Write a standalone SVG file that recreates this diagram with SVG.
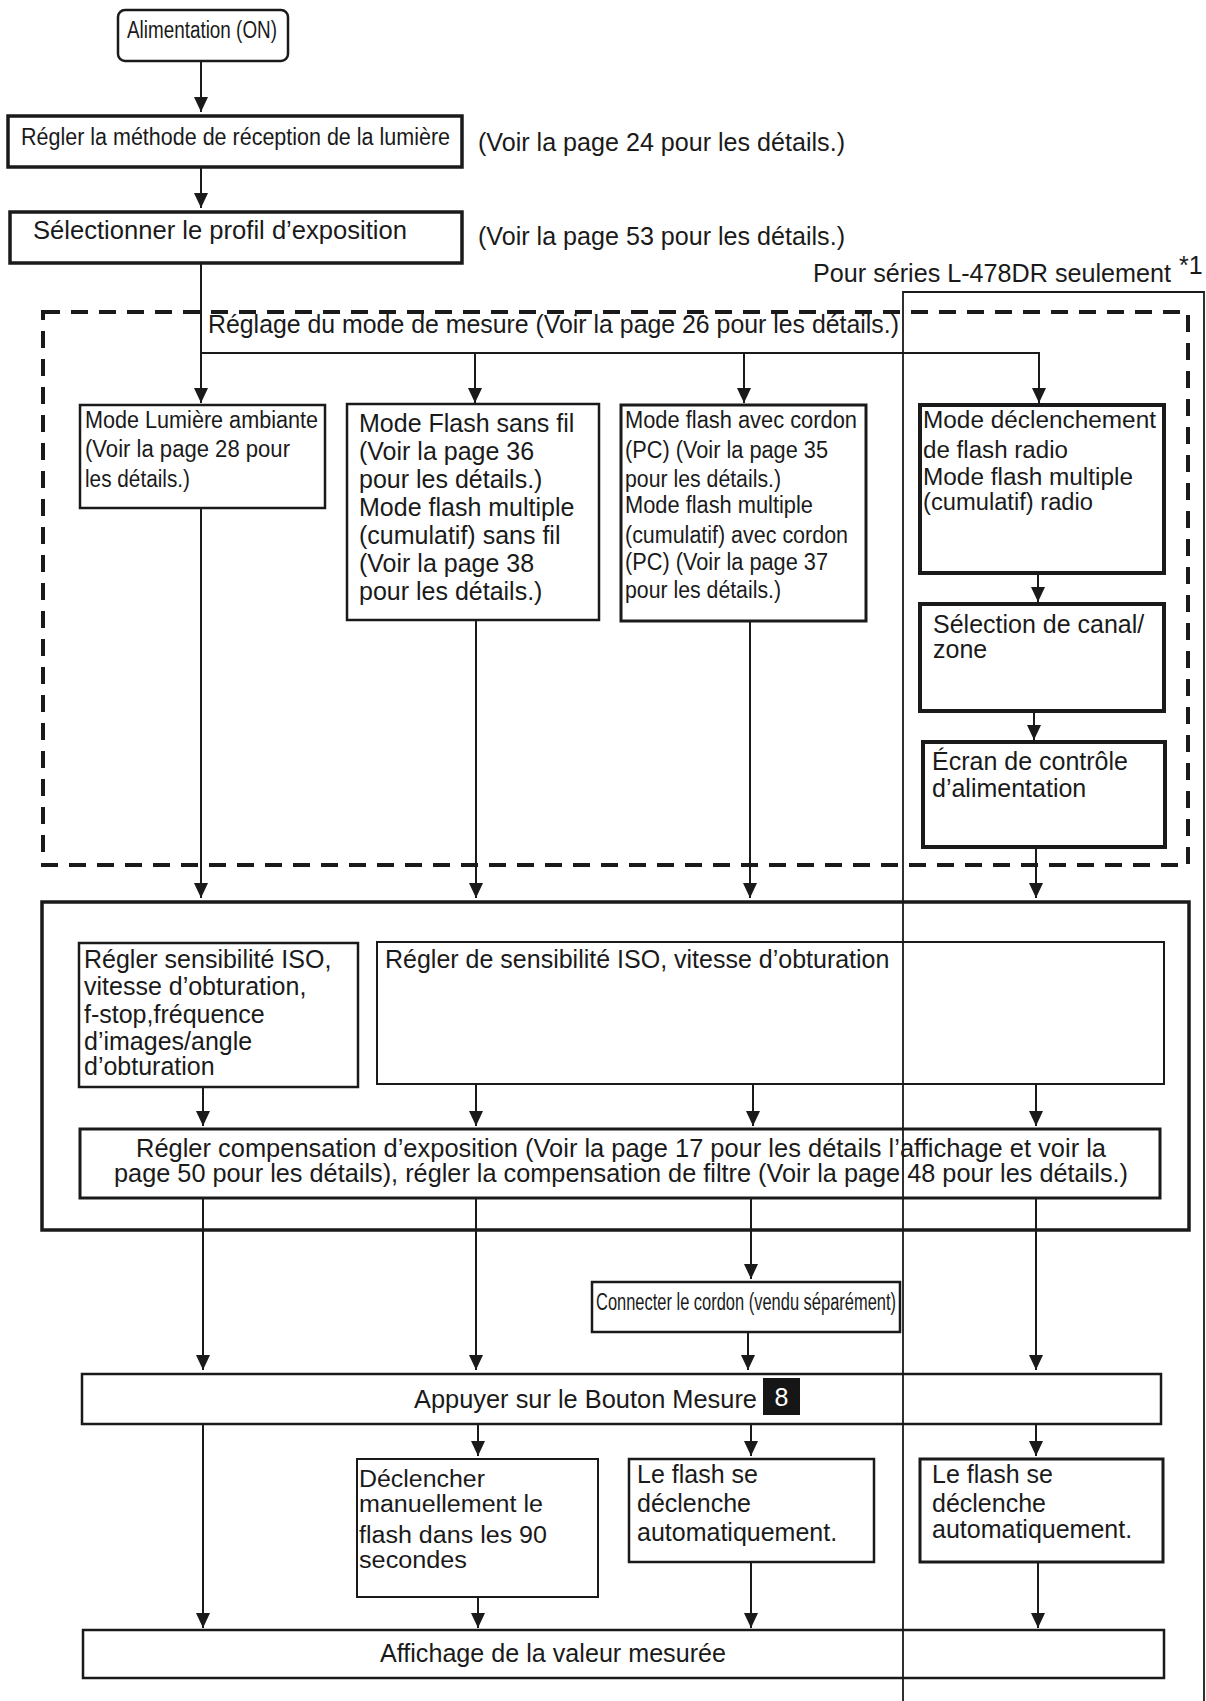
<svg xmlns="http://www.w3.org/2000/svg" width="1206" height="1701" viewBox="0 0 1206 1701">
<defs>
<marker id="ah" viewBox="0 0 15 16" refX="15" refY="8" markerWidth="15" markerHeight="16" markerUnits="userSpaceOnUse" orient="auto">
<path d="M0,1 L15,8 L0,15 z" fill="#1a1a1a"/>
</marker>
<style>
text{font-family:"Liberation Sans",Arial,sans-serif;font-size:25px;fill:#1a1a1a}
.nr{font-family:"Liberation Sans Narrow","Liberation Sans",Arial,sans-serif;font-size:23px}
rect{fill:none;stroke:#1a1a1a}
.t2{stroke-width:2}
.t25{stroke-width:2.5}
.t3{stroke-width:3}
.t35{stroke-width:3.5}
.t4{stroke-width:4}
.c path{fill:none;stroke:#1a1a1a;stroke-width:2;marker-end:url(#ah)}
</style>
</defs>
<rect x="0" y="0" width="1206" height="1701" fill="#fff" stroke="none" style="fill:#fff;stroke:none"/>

<g id="n-alim"><rect x="118" y="10" width="170" height="51" rx="7" class="t25"/><text class="nr" x="127" y="38" font-size="24" textLength="150" lengthAdjust="spacingAndGlyphs">Alimentation (ON)</text></g>

<g id="n-methode"><rect x="8" y="116" width="454" height="51" class="t35"/><text class="nr" x="21" y="145" font-size="24" textLength="429" lengthAdjust="spacingAndGlyphs">Régler la méthode de réception de la lumière</text></g>
<g id="note-24"><text x="478" y="151" textLength="367" lengthAdjust="spacingAndGlyphs">(Voir la page 24 pour les détails.)</text></g>

<g id="n-profil"><rect x="10" y="212" width="452" height="51" class="t35"/><text x="33" y="239" font-size="25.5" textLength="374" lengthAdjust="spacingAndGlyphs">Sélectionner le profil d’exposition</text></g>
<g id="note-53"><text x="478" y="245" textLength="367" lengthAdjust="spacingAndGlyphs">(Voir la page 53 pour les détails.)</text></g>

<g id="note-l478"><text x="813" y="282" textLength="358" lengthAdjust="spacingAndGlyphs">Pour séries L-478DR seulement</text><text x="1179" y="274" font-size="14">*1</text></g>

<g id="n-mesure"><rect x="43" y="312" width="1145" height="553" class="t4" stroke-dasharray="17 11"/><text x="208" y="333" textLength="691" lengthAdjust="spacingAndGlyphs">Réglage du mode de mesure (Voir la page 26 pour les détails.)</text></g>

<g id="n-ambiante"><rect x="80" y="405" width="245" height="103" class="t25"/>
<text class="nr" x="85" y="428" textLength="233" lengthAdjust="spacingAndGlyphs">Mode Lumière ambiante</text>
<text class="nr" x="85" y="457" textLength="205" lengthAdjust="spacingAndGlyphs">(Voir la page 28 pour</text>
<text class="nr" x="85" y="487" textLength="105" lengthAdjust="spacingAndGlyphs">les détails.)</text></g>

<g id="n-sansfil"><rect x="347" y="404" width="252" height="216" class="t25"/>
<text x="359" y="432">Mode Flash sans fil</text>
<text x="359" y="460">(Voir la page 36</text>
<text x="359" y="488">pour les détails.)</text>
<text x="359" y="516">Mode flash multiple</text>
<text x="359" y="544">(cumulatif) sans fil</text>
<text x="359" y="572">(Voir la page 38</text>
<text x="359" y="600">pour les détails.)</text></g>

<g id="n-cordon"><rect x="621" y="405" width="245" height="216" class="t3"/>
<text class="nr" x="625" y="428" textLength="232" lengthAdjust="spacingAndGlyphs">Mode flash avec cordon</text>
<text class="nr" x="625" y="458" textLength="203" lengthAdjust="spacingAndGlyphs">(PC) (Voir  la page 35</text>
<text class="nr" x="625" y="487" textLength="156" lengthAdjust="spacingAndGlyphs">pour les détails.)</text>
<text class="nr" x="625" y="513" textLength="188" lengthAdjust="spacingAndGlyphs">Mode flash multiple</text>
<text class="nr" x="625" y="543" textLength="223" lengthAdjust="spacingAndGlyphs">(cumulatif) avec cordon</text>
<text class="nr" x="625" y="570" textLength="203" lengthAdjust="spacingAndGlyphs">(PC) (Voir  la page 37</text>
<text class="nr" x="625" y="598" textLength="156" lengthAdjust="spacingAndGlyphs">pour les détails.)</text></g>

<g id="n-radio"><rect x="920" y="405" width="244" height="168" class="t4"/>
<text class="nr" x="923" y="428" textLength="233" lengthAdjust="spacingAndGlyphs">Mode déclenchement</text>
<text class="nr" x="923" y="458" textLength="145" lengthAdjust="spacingAndGlyphs">de flash radio</text>
<text class="nr" x="923" y="485" textLength="210" lengthAdjust="spacingAndGlyphs">Mode flash multiple</text>
<text class="nr" x="923" y="510" textLength="170" lengthAdjust="spacingAndGlyphs">(cumulatif) radio</text></g>

<g id="n-canal"><rect x="920" y="604" width="244" height="107" class="t4"/>
<text x="933" y="633">Sélection de canal/</text>
<text x="933" y="658">zone</text></g>

<g id="n-ecran"><rect x="923" y="742" width="242" height="105" class="t4"/>
<text x="932" y="770">Écran de contrôle</text>
<text x="932" y="797">d’alimentation</text></g>

<g id="n-reglages"><rect x="42" y="902" width="1147" height="328" class="t35"/></g>

<g id="n-iso1"><rect x="79" y="943" width="279" height="144" class="t25"/>
<text x="84" y="968">Régler sensibilité ISO,</text>
<text x="84" y="995">vitesse d’obturation,</text>
<text x="84" y="1023">f-stop,fréquence</text>
<text x="84" y="1050">d’images/angle</text>
<text x="84" y="1075">d’obturation</text></g>

<g id="n-iso2"><rect x="377" y="942" width="787" height="142" class="t2"/>
<text x="385" y="968">Régler de sensibilité ISO, vitesse d’obturation</text></g>

<g id="n-comp"><rect x="80" y="1129" width="1080" height="69" class="t3"/>
<text x="136" y="1157" textLength="970" lengthAdjust="spacingAndGlyphs">Régler compensation d’exposition (Voir la page 17 pour les détails l’affichage et voir la</text>
<text x="114" y="1182" textLength="1014" lengthAdjust="spacingAndGlyphs">page 50 pour les détails), régler la compensation de filtre (Voir  la page 48 pour les détails.)</text></g>

<g id="n-connecter"><rect x="592" y="1282" width="308" height="50" class="t25"/>
<text class="nr" x="596" y="1310" font-size="21" textLength="300" lengthAdjust="spacingAndGlyphs">Connecter le cordon (vendu séparément)</text></g>

<g id="n-appuyer"><rect x="82" y="1374" width="1079" height="50" class="t25"/>
<text x="414" y="1408" textLength="343" lengthAdjust="spacingAndGlyphs">Appuyer sur le Bouton Mesure</text>
<rect x="763" y="1378" width="37" height="37" style="fill:#161616;stroke:none"/>
<text x="781.5" y="1406" text-anchor="middle" font-size="26" style="fill:#fff">8</text></g>

<g id="n-declencher"><rect x="357" y="1459" width="241" height="138" class="t2"/>
<text class="nr" x="359" y="1487" textLength="126" lengthAdjust="spacingAndGlyphs">Déclencher</text>
<text class="nr" x="359" y="1512" textLength="184" lengthAdjust="spacingAndGlyphs">manuellement le</text>
<text class="nr" x="359" y="1543" textLength="188" lengthAdjust="spacingAndGlyphs">flash dans les 90</text>
<text class="nr" x="359" y="1568" textLength="108" lengthAdjust="spacingAndGlyphs">secondes</text></g>

<g id="n-auto1"><rect x="629" y="1459" width="245" height="103" class="t25"/>
<text x="637" y="1483">Le flash se</text>
<text x="637" y="1512">déclenche</text>
<text x="637" y="1541">automatiquement.</text></g>

<g id="n-auto2"><rect x="920" y="1459" width="243" height="103" class="t3"/>
<text x="932" y="1483">Le flash se</text>
<text x="932" y="1512">déclenche</text>
<text x="932" y="1538">automatiquement.</text></g>

<g id="n-affichage"><rect x="83" y="1630" width="1081" height="48" class="t25"/>
<text x="380" y="1662" textLength="346" lengthAdjust="spacingAndGlyphs">Affichage de la valeur mesurée</text></g>

<g id="connectors" class="c">
<path d="M201,61 V112"/>
<path d="M201,167 V208"/>
<path d="M201,263 V403"/>
<path d="M201,353 H1039 V403"/>
<path d="M475,353 V403"/>
<path d="M744,353 V403"/>
<path d="M1038,573 V602"/>
<path d="M1034,711 V740"/>
<path d="M201,508 V898"/>
<path d="M476,620 V898"/>
<path d="M750,621 V898"/>
<path d="M1036,847 V898"/>
<path d="M203,1087 V1126"/>
<path d="M476,1084 V1126"/>
<path d="M753,1084 V1126"/>
<path d="M1036,1084 V1126"/>
<path d="M203,1198 V1370"/>
<path d="M476,1198 V1370"/>
<path d="M751,1198 V1279"/>
<path d="M748,1332 V1370"/>
<path d="M1036,1198 V1370"/>
<path d="M203,1424 V1628"/>
<path d="M478,1424 V1456"/>
<path d="M751,1424 V1456"/>
<path d="M1036,1424 V1456"/>
<path d="M478,1597 V1628"/>
<path d="M751,1562 V1628"/>
<path d="M1038,1562 V1628"/>
</g>

<g id="region-l478"><path d="M903,1701 V292 H1204 V1701" fill="none" stroke="#1a1a1a" stroke-width="1.8"/></g>
</svg>
